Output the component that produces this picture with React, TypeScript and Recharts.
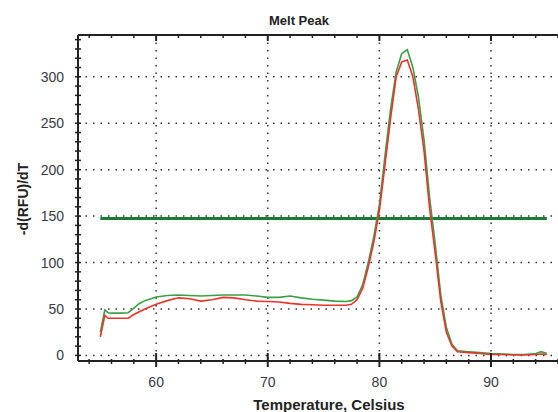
import { LineChart, Line, XAxis, YAxis, CartesianGrid, ReferenceLine, Label } from 'recharts';

const temps = [55, 55.4, 55.7, 56, 57, 57.5, 58, 58.5, 59, 60, 61, 62, 63, 64, 65, 66, 67, 68, 69, 70, 71, 72, 73, 74, 75, 76, 77, 77.5, 78, 78.5, 79, 79.5, 80, 80.5, 81, 81.5, 82, 82.5, 83, 83.5, 84, 84.5, 85, 85.5, 86, 86.5, 87, 88, 89, 90, 91, 92, 93, 94, 94.5, 95];
const redValues = [20, 43, 40, 40, 40, 40, 44, 47, 50, 55, 59, 62, 61, 58.5, 60, 62.5, 62, 60, 58.5, 58, 57.5, 56, 55, 54.5, 54, 54, 54, 55, 60, 72, 95, 122, 156, 205, 255, 300, 316, 318, 300, 265, 220, 158, 110, 58, 25, 10, 4, 3, 2, 1, 1, 0.5, 0.5, 1, 1.5, 1];
const greenValues = [25, 49, 46, 45.5, 45.5, 46, 51, 56, 59, 63, 64.5, 65, 64.5, 64, 64.5, 65, 65, 65, 64, 62.5, 62.5, 64, 62, 60.5, 59.5, 58.5, 58, 59, 63, 76, 100, 128, 162, 215, 265, 305, 325, 329, 310, 278, 232, 170, 120, 65, 30, 12, 5, 4, 3, 2, 1.5, 1, 1, 2, 4, 2];

const threshold = 147.5;
const thresholdStart = 55;
const thresholdEnd = 95;

const xTicks = [54, 56, 58, 60, 62, 64, 66, 68, 70, 72, 74, 76, 78, 80, 82, 84, 86, 88, 90, 92, 94, 96];
const xLabels = [60, 70, 80, 90];
const yTicks = [0, 10, 20, 30, 40, 50, 60, 70, 80, 90, 100, 110, 120, 130, 140, 150, 160, 170, 180, 190, 200, 210, 220, 230, 240, 250, 260, 270, 280, 290, 300, 310, 320, 330, 340];
const yLabels = [0, 50, 100, 150, 200, 250, 300];

const data = temps.map((t, i) => ({ t, red: redValues[i], green: greenValues[i] }));

const FONT = '"Liberation Sans", Arial, sans-serif';
const AXIS = '#222';
const TICK_TEXT = '#3a3a48';

const BottomTick = (props: any) => {
  const { x, y, payload } = props;
  const major = xLabels.includes(payload.value);
  return (
    <g>
      <line x1={x} x2={x} y1={major ? y - 8 : y - 2} y2={major ? y + 6 : y + 3} stroke={AXIS} strokeWidth={major ? 2 : 1.5} />
      {major && (
        <text x={x} y={y + 21} textAnchor="middle" dominantBaseline="central" fontSize={14} fontFamily={FONT} fill={TICK_TEXT}>
          {payload.value}
        </text>
      )}
    </g>
  );
};

const TopTick = (props: any) => {
  const { x, y, payload } = props;
  const major = xLabels.includes(payload.value);
  return <line x1={x} x2={x} y1={y} y2={major ? y + 6 : y + 3} stroke={AXIS} strokeWidth={major ? 2 : 1.5} />;
};

const LeftTick = (props: any) => {
  const { x, y, payload } = props;
  const major = yLabels.includes(payload.value);
  return (
    <g>
      <line x1={x - 3} x2={x + 3} y1={y} y2={y} stroke={AXIS} strokeWidth={1.5} />
      {major && (
        <text x={x - 14} y={y} textAnchor="end" dominantBaseline="central" fontSize={14} fontFamily={FONT} fill={TICK_TEXT}>
          {payload.value}
        </text>
      )}
    </g>
  );
};

export default function App() {
  return (
    <div style={{ position: 'absolute', left: 0, top: 0, width: 558, height: 412, background: '#fff' }}>
      <LineChart width={558} height={412} data={data} margin={{ top: 0, right: 0, bottom: 0, left: 0 }}>
        <CartesianGrid
          horizontalValues={yLabels}
          verticalValues={xLabels}
          stroke="#333"
          strokeWidth={1.5}
          strokeDasharray="1.5 6"
        />
        <XAxis
          dataKey="t"
          type="number"
          domain={[53, 96]}
          ticks={xTicks}
          interval={0}
          height={51}
          tickSize={0}
          tickMargin={0}
          axisLine={{ stroke: AXIS, strokeWidth: 2 }}
          tickLine={false}
          tick={BottomTick}
        >
          <Label
            content={() => (
              <text x={329} y={404} textAnchor="middle" dominantBaseline="central" fontSize={15} fontWeight="bold" fontFamily={FONT} fill="#222">
                Temperature, Celsius
              </text>
            )}
          />
        </XAxis>
        <XAxis
          xAxisId="top"
          orientation="top"
          dataKey="t"
          type="number"
          domain={[53, 96]}
          ticks={xTicks}
          interval={0}
          height={35}
          tickSize={0}
          tickMargin={0}
          axisLine={{ stroke: AXIS, strokeWidth: 2 }}
          tickLine={false}
          tick={TopTick}
        >
          <Label
            content={() => (
              <text x={299} y={20} textAnchor="middle" dominantBaseline="central" fontSize={13} fontWeight="bold" fontFamily={FONT} fill="#222">
                Melt Peak
              </text>
            )}
          />
        </XAxis>
        <YAxis
          type="number"
          domain={[-6, 345]}
          ticks={yTicks}
          interval={0}
          width={78}
          tickSize={0}
          tickMargin={0}
          axisLine={{ stroke: AXIS, strokeWidth: 2 }}
          tickLine={false}
          tick={LeftTick}
        >
          <Label
            content={() => (
              <text x={23} y={199} transform="rotate(-90 23 199)" textAnchor="middle" dominantBaseline="central" fontSize={14} fontWeight="bold" fontFamily={FONT} fill="#222">
                -d(RFU)/dT
              </text>
            )}
          />
        </YAxis>
        <ReferenceLine
          segment={[{ x: thresholdStart, y: threshold }, { x: thresholdEnd, y: threshold }]}
          stroke="#1b7a36"
          strokeWidth={3}
        />
        <Line type="linear" dataKey="green" stroke="#3b9e48" strokeWidth={1.6} dot={false} activeDot={false} isAnimationActive={false} />
        <Line type="linear" dataKey="red" stroke="#e8352b" strokeWidth={1.6} dot={false} activeDot={false} isAnimationActive={false} />
      </LineChart>
    </div>
  );
}
